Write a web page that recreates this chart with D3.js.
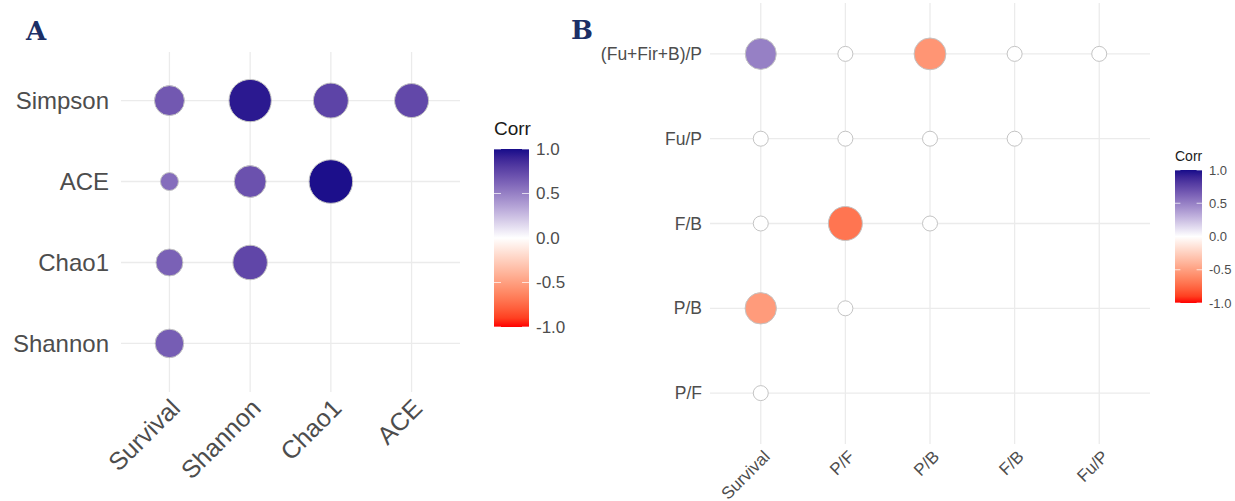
<!DOCTYPE html>
<html><head><meta charset="utf-8">
<script src="https://cdn.jsdelivr.net/npm/d3@7"></script>
<style>html,body{margin:0;padding:0;background:#fff;}svg{display:block;font-family:"Liberation Sans",Arial,sans-serif;}</style>
</head><body>
<svg id="chart" width="1235" height="501"></svg>
<script>
// ---------- Panel A data ----------
const colsA = ["Survival", "Shannon", "Chao1", "ACE"];
const rowsA = ["Simpson", "ACE", "Chao1", "Shannon"]; // top to bottom
const simpsonA = [0.67, 0.95, 0.76, 0.74]; // vs Survival, Shannon, Chao1, ACE
const aceA = [0.58, 0.70, 0.99];           // vs Survival, Shannon, Chao1
const chao1A = [0.63, 0.75];               // vs Survival, Shannon
const shannonA = [0.65];                   // vs Survival

// ---------- Panel B data ----------
const colsB = ["Survival", "P/F", "P/B", "F/B", "Fu/P"];
const rowsB = ["(Fu+Fir+B)/P", "Fu/P", "F/B", "P/B", "P/F"]; // top to bottom
const fufirbpB = [0.50, 0, -0.55, 0, 0];
const fupB = [0, 0, 0, 0];
const fbB = [0, -0.70, 0];
const pbB = [-0.52, 0];
const pfB = [0];

const legendTicks = [1.0, 0.5, 0.0, -0.5, -1.0];

const svg = d3.select("#chart");
const gridCol = "#ebebeb";
const textCol = "#4d4d4d";

const color = d3.scaleLinear().domain([-1, 0, 1])
  .range(["#ff0000", "#ffffff", "#170c8a"]).interpolate(d3.interpolateLab);

function buildCells(rows, cols, rowArrays) {
  const cells = [];
  rows.forEach((r, i) => {
    rowArrays[i].forEach((v, j) => cells.push({row: r, col: cols[j], v: v}));
  });
  return cells;
}

function panel(opt) {
  const x = d3.scalePoint().domain(opt.cols).range(opt.xr).padding(0.6);
  const y = d3.scalePoint().domain(opt.rows).range(opt.yr).padding(0.6);
  const g = svg.append("g");
  g.selectAll(".gx").data(opt.cols).join("line")
    .attr("x1", d => x(d)).attr("x2", d => x(d))
    .attr("y1", opt.yr[0]).attr("y2", opt.yr[1])
    .attr("stroke", gridCol).attr("stroke-width", 1.3);
  g.selectAll(".gy").data(opt.rows).join("line")
    .attr("y1", d => y(d)).attr("y2", d => y(d))
    .attr("x1", opt.xr[0]).attr("x2", opt.xr[1])
    .attr("stroke", gridCol).attr("stroke-width", 1.3);
  const ext = d3.extent(opt.cells, d => Math.abs(d.v));
  const t = d3.scaleLinear().domain(ext).range([0, 1]);
  const rs = d3.scaleLinear().domain([0, 1]).range(opt.rr);
  g.selectAll("circle").data(opt.cells).join("circle")
    .attr("cx", d => x(d.col)).attr("cy", d => y(d.row))
    .attr("r", d => rs(Math.sqrt(t(Math.abs(d.v)))))
    .attr("fill", d => color(d.v))
    .attr("stroke", "#c4c4c4").attr("stroke-width", 1);
  const ya = d3.axisLeft(y).tickSize(0).tickPadding(0);
  const yg = g.append("g").attr("transform", `translate(${opt.ylabX},0)`).call(ya);
  yg.select(".domain").remove();
  yg.selectAll("text").attr("font-size", opt.yfs).attr("fill", textCol)
    .attr("font-family", "'Liberation Sans',Arial,sans-serif");
  const xa = d3.axisBottom(x).tickSize(0).tickPadding(0);
  const xg = g.append("g").attr("transform", `translate(0,${opt.xlabY})`).call(xa);
  xg.select(".domain").remove();
  xg.selectAll("text")
    .attr("font-size", opt.xfs).attr("fill", textCol)
    .attr("font-family", "'Liberation Sans',Arial,sans-serif")
    .attr("text-anchor", "end").attr("y", 0).attr("dy", "0.72em")
    .attr("transform", `translate(${opt.xoff},0) rotate(-45)`);
  return g;
}

function legend(opt) {
  const g = svg.append("g");
  const ys = d3.scaleLinear().domain([1, -1]).range([opt.y0, opt.y1]);
  const gid = opt.id;
  const grad = svg.append("defs").append("linearGradient").attr("id", gid)
    .attr("x1", 0).attr("x2", 0).attr("y1", 0).attr("y2", 1);
  d3.range(0, 21).forEach(i => {
    const v = 1 - i / 10;
    grad.append("stop").attr("offset", (i / 20)).attr("stop-color", color(v));
  });
  g.append("text").attr("x", opt.x0).attr("y", opt.ty).text("Corr")
    .attr("font-size", opt.tfs).attr("fill", "#1a1a1a");
  g.append("rect").attr("x", opt.x0).attr("y", opt.y0)
    .attr("width", opt.w).attr("height", opt.y1 - opt.y0)
    .attr("fill", `url(#${gid})`);
  const tl = opt.w / 5;
  legendTicks.forEach(v => {
    g.append("line").attr("x1", opt.x0).attr("x2", opt.x0 + tl)
      .attr("y1", ys(v)).attr("y2", ys(v)).attr("stroke", "#ffffff").attr("stroke-opacity", 0.7);
    g.append("line").attr("x1", opt.x0 + opt.w - tl).attr("x2", opt.x0 + opt.w)
      .attr("y1", ys(v)).attr("y2", ys(v)).attr("stroke", "#ffffff").attr("stroke-opacity", 0.7);
  });
  g.selectAll(".lt").data(legendTicks).join("text")
    .attr("x", opt.x0 + opt.w + opt.lp).attr("y", d => ys(d))
    .attr("dy", "0.35em").attr("font-size", opt.lfs).attr("fill", textCol)
    .text(d => d3.format(".1f")(d).replace("\u2212", "-"));
}

// Panel A
panel({
  cols: colsA, rows: rowsA,
  cells: buildCells(rowsA, colsA, [simpsonA, aceA, chao1A, shannonA]),
  xr: [121, 460], yr: [52, 392], rr: [9, 21.8],
  ylabX: 109, yfs: 24, xlabY: 397, xfs: 25, xoff: -1
});
legend({id: "gA", x0: 494, w: 35, y0: 149, y1: 327, ty: 135, tfs: 19, lfs: 17, lp: 7});

// Panel B
panel({
  cols: colsB, rows: rowsB,
  cells: buildCells(rowsB, colsB, [fufirbpB, fupB, fbB, pbB, pfB]),
  xr: [710, 1150], yr: [3, 444], rr: [7.5, 17],
  ylabX: 702, yfs: 17.5, xlabY: 449, xfs: 17, xoff: 1
});
legend({id: "gB", x0: 1175, w: 27, y0: 170, y1: 303, ty: 161, tfs: 14, lfs: 13, lp: 7});

// panel letters
svg.append("text").attr("x", 26).attr("y", 40).text("A")
  .attr("font-family", "'DejaVu Serif','Liberation Serif',serif").attr("font-weight", "bold")
  .attr("font-size", 26).attr("fill", "#1c2f66");
svg.append("text").attr("x", 571).attr("y", 39).text("B")
  .attr("font-family", "'DejaVu Serif','Liberation Serif',serif").attr("font-weight", "bold")
  .attr("font-size", 26).attr("fill", "#1c2f66");
</script>
</body></html>
